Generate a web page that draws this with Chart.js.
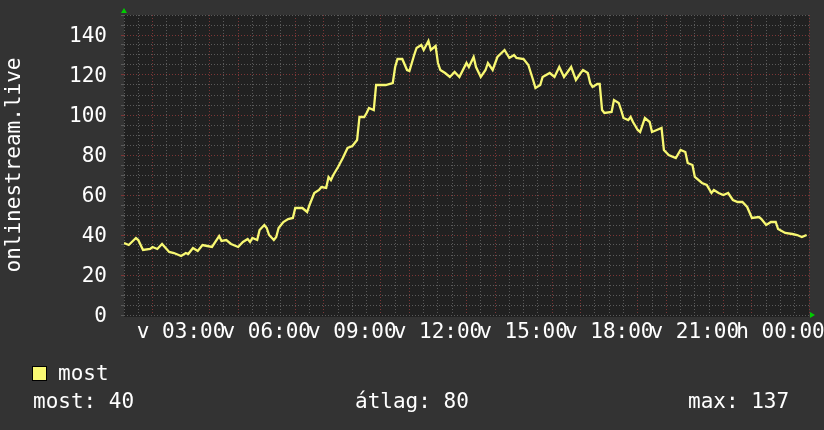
<!DOCTYPE html>
<html lang="hu">
<head>
<meta charset="UTF-8">
<title>onlinestream.live</title>
<style>
  body { margin: 0; background: #333333; }
  #wrap { position: relative; width: 824px; height: 430px; background: #333333; overflow: hidden; }
  canvas { position: absolute; left: 0; top: 0; }
  .txt { position: absolute; font-family: 'DejaVu Sans Mono', monospace; font-size: 21px; line-height: 21px; color: #ffffff; white-space: pre; }
  .box { position: absolute; left: 32px; top: 366px; width: 13px; height: 13px; background: #f8f872; border: 1px solid #000; }
</style>
<script src="https://cdn.jsdelivr.net/npm/chart.js"></script>
</head>
<body>
<div id="wrap">
  <canvas id="chart" width="824" height="430"></canvas>
  <div class="box"></div>
  <div class="txt" style="left:58px;top:363px">most</div>
  <div class="txt" style="left:33px;top:391px">most: 40</div>
  <div class="txt" style="left:355px;top:391px">átlag: 80</div>
  <div class="txt" style="left:688px;top:391px">max: 137</div>
</div>
<script>
// minutes since Sunday 01:00
const TIMES = [0,10,25,30,40,55,60,70,80,95,105,120,130,135,145,155,165,175,185,200,205,215,225,240,250,260,265,270,280,285,
  295,300,305,315,320,325,335,345,355,360,375,385,390,400,410,415,425,430,435,440,450,460,470,480,490,495,505,510,515,525,
  530,550,565,570,575,585,595,600,610,615,625,630,640,645,655,660,665,675,685,695,705,720,725,735,740,750,760,765,775,785,
  800,810,820,825,840,850,860,865,875,880,895,905,915,925,940,950,960,965,975,980,985,995,1000,1005,1010,1025,1030,1040,1045,1050,
  1060,1065,1070,1080,1085,1095,1105,1110,1120,1130,1135,1145,1160,1170,1180,1185,1195,1200,1215,1225,1235,1240,1250,1260,1270,1280,
  1290,1300,1310,1320,1335,1340,1350,1360,1370,1375,1390,1405,1415,1425,1435];
const VALUES = [36,35,38.5,37.5,32.5,33,34,33,35.5,31.5,31,29.5,31,30.5,33.5,32,35,34.5,34,39.5,37,37.5,35.5,34,36.5,38,36.5,38.5,37.5,42.5,
  45,43.5,40,37.5,39,43.5,46.5,48,48.5,53.5,53.5,51.5,55,61,62.5,64,63.5,69,67.5,70,74,78.5,83.5,84.5,87.5,99,99,101,103.5,102.5,
  115,115,116,124,128,128,122.5,122,130,133.5,135,132.5,137,132.5,134.5,126,122.5,121,119,121.5,119,126,124,129,124,119,122.5,126,122.5,129,
  132.5,128.5,130,128.5,128,125,117.5,113.5,115,119,121,119,124,119,124,117.5,121,122.5,121,116,114,115.5,115.5,102.5,101,101.5,107.5,106,102.5,98.5,
  97.5,99,96.5,92.5,91.5,98.5,96.5,91.5,92.5,93.5,82.5,80,78.5,82.5,81.5,76,75,69,66,65,61,62.5,61,60,61,57.5,
  56.5,56.5,54,48.5,49,48,45,46.5,46.5,43,41,40.5,40,39,40];
const LABEL_MINUTES = [120,300,480,660,840,1020,1200,1380];
const LABEL_TEXTS = ['v 03:00','v 06:00','v 09:00','v 12:00','v 15:00','v 18:00','v 21:00','h 00:00'];

const FONT = { family: "'DejaVu Sans Mono', monospace", size: 21 };
const GRID_MINOR = '#5a5a5a';
const GRID_MAJOR = '#7c3636';

const decor = {
  id: 'decor',
  beforeDraw(chart) {
    const { ctx, chartArea: a } = chart;
    ctx.save();
    ctx.fillStyle = '#212121';
    ctx.fillRect(a.left, a.top, a.right - a.left, a.bottom - a.top + 2);
    ctx.restore();
  },
  afterDraw(chart) {
    const { ctx, chartArea: a } = chart;
    ctx.save();
    ctx.fillStyle = '#00cc00';
    ctx.beginPath();
    ctx.moveTo(a.left - 3, a.top - 2);
    ctx.lineTo(a.left + 3, a.top - 2);
    ctx.lineTo(a.left, a.top - 7);
    ctx.closePath();
    ctx.fill();
    ctx.beginPath();
    ctx.moveTo(a.right + 1, a.bottom - 3);
    ctx.lineTo(a.right + 1, a.bottom + 3);
    ctx.lineTo(a.right + 6, a.bottom);
    ctx.closePath();
    ctx.fill();
    ctx.restore();
  }
};

new Chart(document.getElementById('chart'), {
  type: 'line',
  data: {
    datasets: [{
      label: 'most',
      data: TIMES.map((t, i) => ({ x: t, y: VALUES[i] })),
      borderColor: '#f8f872',
      borderWidth: 2.3,
      pointRadius: 0,
      tension: 0,
      fill: false
    }]
  },
  options: {
    responsive: false,
    animation: false,
    devicePixelRatio: 1,
    layout: { padding: { top: 15, right: 15, left: 0, bottom: 0 } },
    plugins: { legend: { display: false }, tooltip: { enabled: false } },
    scales: {
      x: {
        type: 'linear',
        min: 0,
        max: 1440,
        afterFit: s => { s.height = 115; s.paddingLeft = 0; s.paddingRight = 0; },
        border: { display: false, dash: [1, 2] },
        grid: {
          drawTicks: false,
          color: c => (c.tick.value % 60 === 0 && (c.tick.value + 60) % 180 !== 0 && c.tick.value > 0) ? GRID_MAJOR : GRID_MINOR
        },
        ticks: {
          stepSize: 30,
          autoSkip: false,
          maxRotation: 0,
          minRotation: 0,
          padding: 5,
          color: '#ffffff',
          font: FONT,
          callback: v => {
            const i = LABEL_MINUTES.indexOf(v);
            return i >= 0 ? LABEL_TEXTS[i] : '';
          }
        }
      },
      y: {
        min: 0,
        max: 150,
        afterFit: s => { s.width = 124; s.paddingTop = 0; s.paddingBottom = 0; },
        border: { display: false, dash: [1, 2] },
        grid: {
          tickLength: 3,
          color: c => (c.tick.value % 20 === 0 && c.tick.value > 0) ? GRID_MAJOR : GRID_MINOR
        },
        title: {
          display: true,
          text: 'onlinestream.live',
          color: '#ffffff',
          font: FONT,
          padding: { top: 2, bottom: 0 }
        },
        ticks: {
          stepSize: 5,
          autoSkip: false,
          padding: 14,
          labelOffset: 2,
          color: '#ffffff',
          font: FONT,
          callback: v => (v % 20 === 0 && v <= 140) ? v : ''
        }
      }
    }
  },
  plugins: [decor]
});
</script>
</body>
</html>
